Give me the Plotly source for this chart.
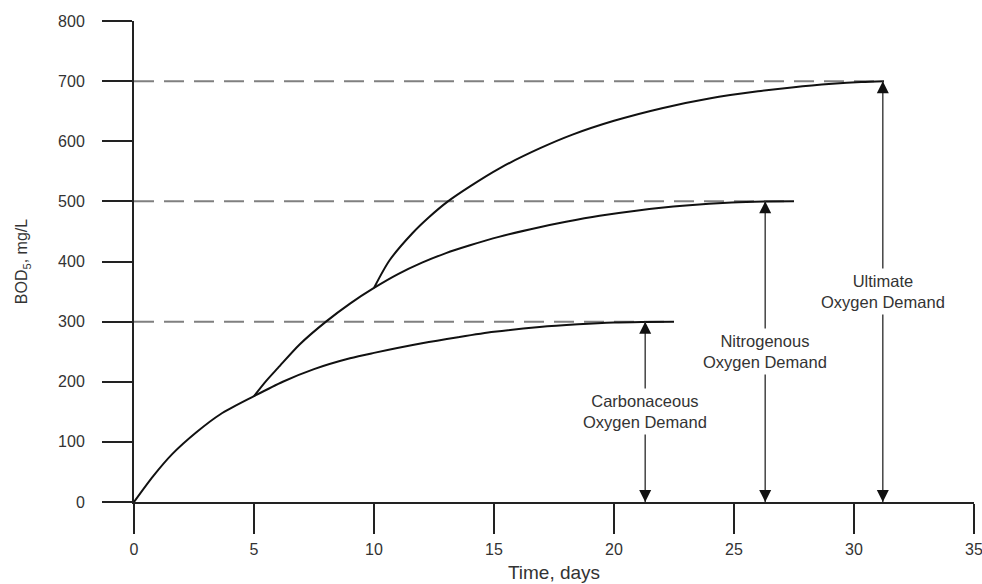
import plotly.graph_objects as go

# ---- data ----
carb_t = [0, 0.8, 1.6, 2.6, 3.6, 5, 6.2, 7.5, 9, 10, 12, 13.5, 15, 16.9, 18.5, 20, 21.3, 22.5]
carb_y = [0, 43, 80, 116, 146, 176, 200, 221, 239, 248, 264, 274, 283, 291, 295.5, 298.5, 299.5, 300]

nitro_t = [5, 5.5, 6, 6.9, 8, 9, 10, 11, 12, 13, 14, 15.2, 16.9, 18, 19.4, 21, 23, 24.9, 26.3, 27.5]
nitro_y = [176, 201, 223, 262, 300, 330, 356, 379, 398, 414, 427, 441, 457, 466, 476, 485, 493, 498, 499.7, 500]

ult_t = [10, 10.65, 11.6, 12.3, 13.08, 14, 15.23, 16.9, 18.27, 20, 22, 23.97, 26, 27.5, 29.1, 30.3, 31.25]
ult_y = [356, 402, 447, 474, 500, 525, 555, 588, 611, 634, 655, 671, 683, 690, 695.5, 698.5, 700]

levels = [300, 500, 700]
level_ends = [22.5, 27.5, 31.25]
arrow_x = [21.3, 26.3, 31.2]
labels = ["Carbonaceous<br>Oxygen Demand", "Nitrogenous<br>Oxygen Demand", "Ultimate<br>Oxygen Demand"]

x_ticks = [0, 5, 10, 15, 20, 25, 30, 35]
y_ticks = [0, 100, 200, 300, 400, 500, 600, 700, 800]

FONT = "Liberation Sans, Arial, sans-serif"

fig = go.Figure()

# dashed reference levels
for lvl, xe in zip(levels, level_ends):
    fig.add_trace(go.Scatter(x=[0, xe], y=[lvl, lvl], mode="lines",
                             line=dict(color="#808080", width=2, dash="20px,10px"),
                             hoverinfo="skip", showlegend=False))

# BOD curves
for xs, ys in [(carb_t, carb_y), (nitro_t, nitro_y), (ult_t, ult_y)]:
    fig.add_trace(go.Scatter(x=xs, y=ys, mode="lines", line=dict(color="#111", width=2),
                             line_shape="spline", line_smoothing=0.8, showlegend=False))

# double-headed arrows: shaft + heads
for xa, lvl in zip(arrow_x, levels):
    fig.add_trace(go.Scatter(x=[xa, xa], y=[0, lvl], mode="lines",
                             line=dict(color="#444", width=1.5), showlegend=False, hoverinfo="skip"))
    fig.add_trace(go.Scatter(x=[xa, xa], y=[lvl, 0], mode="markers",
                             marker=dict(symbol=["arrow-up", "arrow-down"], size=12, color="#111",
                                         line=dict(width=0)),
                             showlegend=False, hoverinfo="skip"))

annotations = []
for xa, lvl, lab in zip(arrow_x, levels, labels):
    annotations.append(dict(x=xa, y=lvl / 2, xref="x", yref="y", text=lab, showarrow=False,
                            bgcolor="white", borderpad=3,
                            font=dict(family=FONT, size=16.5, color="#333")))

fig.update_layout(
    width=982, height=584,
    margin=dict(l=134, r=8, t=21, b=82, autoexpand=False),
    paper_bgcolor="white", plot_bgcolor="white",
    font=dict(family=FONT, color="#333"),
    annotations=annotations,
    xaxis=dict(range=[0, 35], tickvals=x_ticks, ticks="outside", ticklen=30, tickwidth=2,
               tickcolor="#222", showline=True, linecolor="#222", linewidth=2,
               showgrid=False, zeroline=False, tickfont=dict(size=16, color="#333"),
               ticklabelstandoff=2, ticklabeloverflow="allow", automargin=False,
               title=dict(text="Time, days", font=dict(size=19, color="#333"), standoff=8)),
    yaxis=dict(range=[0, 800], tickvals=y_ticks, ticks="outside", ticklen=30, tickwidth=2,
               tickcolor="#222", showline=True, linecolor="#222", linewidth=2,
               showgrid=False, zeroline=False, tickfont=dict(size=16, color="#333"),
               ticklabelstandoff=14, automargin=False,
               title=dict(text="BOD<sub>5</sub>, mg/L", font=dict(size=16, color="#333"), standoff=26)),
)

fig.write_html("out.html")
